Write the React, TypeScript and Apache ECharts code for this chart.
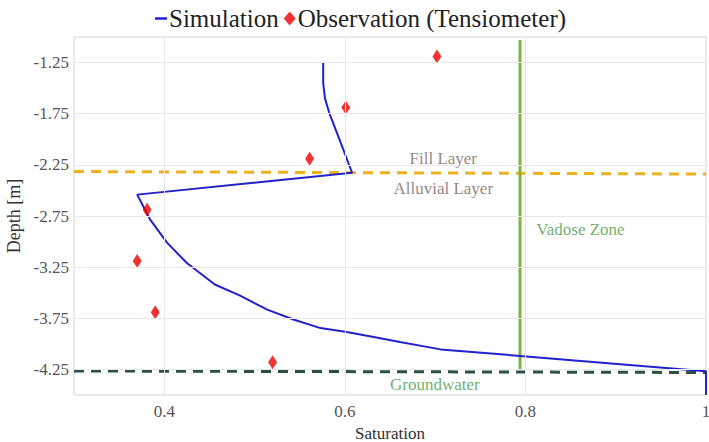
import React, { useEffect, useRef } from "react";
import * as echarts from "echarts";

// Simulation curve (saturation vs depth)
const simSaturation = [0.576, 0.576, 0.578, 0.583, 0.594, 0.608, 0.370, 0.384, 0.403, 0.425, 0.456, 0.484, 0.514, 0.543, 0.573, 0.602, 0.632, 0.661, 0.706, 0.794, 0.905, 1.0, 1.0];
const simDepth = [-1.25, -1.45, -1.6, -1.75, -2.0, -2.327, -2.541, -2.78, -3.01, -3.21, -3.42, -3.528, -3.665, -3.762, -3.846, -3.885, -3.934, -3.982, -4.054, -4.118, -4.199, -4.268, -4.5];

// Observations (tensiometer)
const obsSaturation = [0.702, 0.601, 0.561, 0.381, 0.370, 0.390, 0.520];
const obsDepth = [-1.19, -1.69, -2.19, -2.69, -3.19, -3.69, -4.18];

// Reference lines
const layerBoundaryX = [0.3, 1.0];
const layerBoundaryDepth = [-2.315, -2.34];
const groundwaterX = [0.3, 1.0];
const groundwaterDepth = [-4.265, -4.28];
const vadoseX = [0.794, 0.794];
const vadoseDepth = [-1.03, -4.25];

// Axes
const xTicks = [0.4, 0.6, 0.8, 1];
const yTicks = [-1.25, -1.75, -2.25, -2.75, -3.25, -3.75, -4.25];

const FONT = "Liberation Serif";

export default function App() {
  const ref = useRef<HTMLDivElement>(null);
  useEffect(() => {
    if (!ref.current) return;
    const chart = echarts.init(ref.current, undefined, { renderer: "svg" });
    const zip = (a: number[], b: number[]) => a.map((v, i) => [v, b[i]]);
    const brown = "#7a6464";
    const green = "#4a9a4a";
    chart.setOption({
      animation: false,
      backgroundColor: "#ffffff",
      textStyle: { fontFamily: FONT },
      legend: {
        left: 150,
        top: 1,
        itemGap: 5,
        itemWidth: 12,
        itemHeight: 14,
        textStyle: { fontFamily: FONT, fontSize: 25, color: "#222", padding: [0, 0, 0, -3] },
        data: [
          { name: "Simulation", icon: "path://M0,6 L12,6 L12,8.5 L0,8.5 Z", itemStyle: { color: "#2222cc" } },
          { name: "Observation (Tensiometer)", icon: "diamond", itemStyle: { color: "#ee0000" } },
        ],
      },
      grid: {
        left: 74,
        right: 3,
        top: 37,
        bottom: 47,
        containLabel: false,
        outerBoundsMode: "none",
        show: true,
        borderColor: "#d4d4d4",
        borderWidth: 1,
      },
      xAxis: {
        type: "value",
        min: 0.3,
        max: 1,
        name: "Saturation",
        nameLocation: "middle",
        nameGap: 22,
        nameTextStyle: { fontFamily: FONT, fontSize: 17, color: "#333" },
        axisLine: { show: false },
        axisTick: { show: false },
        splitLine: { show: false },
        axisLabel: {
          customValues: xTicks,
          fontFamily: FONT,
          fontSize: 17,
          color: "#555",
          margin: 8,
          formatter: (v: number) => String(v),
        },
      },
      yAxis: {
        type: "value",
        min: -4.5,
        max: -1.0,
        name: "Depth [m]",
        nameLocation: "middle",
        nameGap: 48,
        nameTextStyle: { fontFamily: FONT, fontSize: 18, color: "#333" },
        axisLine: { show: false },
        axisTick: { show: false },
        splitLine: { show: false },
        axisLabel: {
          customValues: yTicks,
          fontFamily: FONT,
          fontSize: 17,
          color: "#555",
          margin: 5,
          formatter: (v: number) => v.toFixed(2),
        },
      },
      series: [
        {
          name: "grid",
          type: "line",
          data: [],
          z: 0,
          silent: true,
          markLine: {
            silent: true,
            symbol: "none",
            label: { show: false },
            lineStyle: { color: "#e8e8e8", width: 1, type: "solid" },
            data: [
              ...xTicks.filter((v) => v < 1).map((v) => ({ xAxis: v })),
              ...yTicks.map((v) => ({ yAxis: v })),
            ],
          },
        },
        {
          name: "Fill/Alluvial boundary",
          type: "line",
          data: zip(layerBoundaryX, layerBoundaryDepth),
          symbol: "none",
          z: 2,
          lineStyle: { color: "#EDB120", width: 3, type: [10, 7] },
        },
        {
          name: "Groundwater line",
          type: "line",
          data: zip(groundwaterX, groundwaterDepth),
          symbol: "none",
          z: 2,
          lineStyle: { color: "#2f4f45", width: 3, type: [10, 7] },
        },
        {
          name: "Vadose line",
          type: "line",
          data: zip(vadoseX, vadoseDepth),
          symbol: "none",
          z: 2,
          lineStyle: { color: "#7cb342", width: 3 },
        },
        {
          name: "Simulation",
          type: "line",
          data: zip(simSaturation, simDepth),
          symbol: "none",
          z: 3,
          color: "#2222cc",
          lineStyle: { color: "#2222cc", width: 2 },
        },
        {
          name: "Observation (Tensiometer)",
          type: "scatter",
          data: zip(obsSaturation, obsDepth),
          symbol: "diamond",
          symbolSize: [9, 14],
          z: 4,
          itemStyle: { color: "#ee0000" },
        },
        {
          name: "annotations",
          type: "scatter",
          symbolSize: 0,
          z: 5,
          silent: true,
          label: {
            show: true,
            position: "inside",
            fontFamily: FONT,
            fontSize: 17,
            formatter: (p: any) => p.data.text,
          },
          data: [
            { value: [0.709, -2.188], text: "Fill Layer", label: { color: brown } },
            { value: [0.709, -2.48], text: "Alluvial Layer", label: { color: brown } },
            { value: [0.861, -2.88], text: "Vadose Zone", label: { color: green } },
            { value: [0.6997, -4.398], text: "Groundwater", label: { color: green } },
          ],
        },
      ],
    });
    return () => chart.dispose();
  }, []);
  return (
    <div
      ref={ref}
      style={{ position: "fixed", left: 0, top: 0, width: 709, height: 442, background: "#fff" }}
    />
  );
}
